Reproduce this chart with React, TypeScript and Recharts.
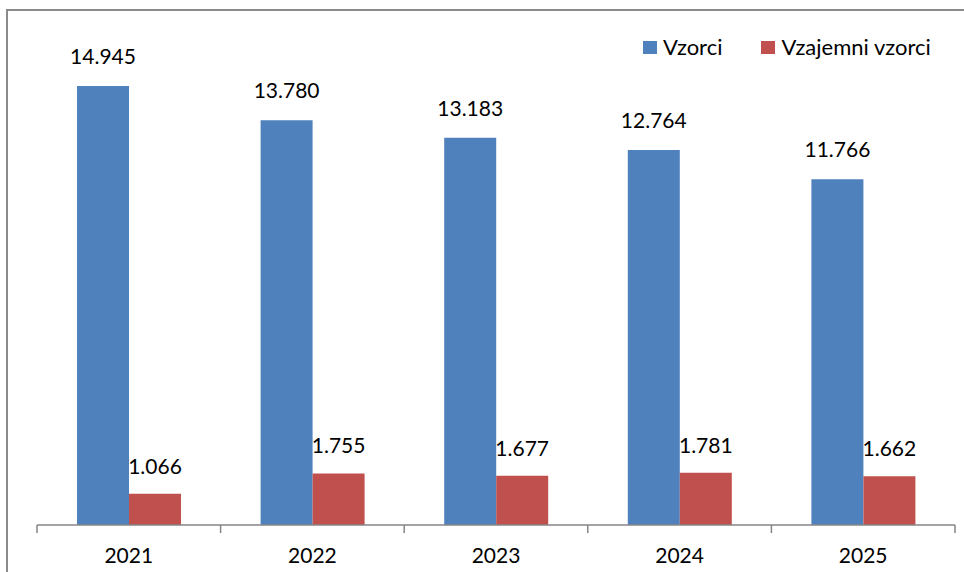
import React from 'react';
import { BarChart, Bar, XAxis, YAxis, LabelList, Legend } from 'recharts';

const years = ['2021', '2022', '2023', '2024', '2025'];
const vzorci = [14945, 13780, 13183, 12764, 11766];
const vzajemni = [1066, 1755, 1677, 1781, 1662];
const seriesNames = ['Vzorci', 'Vzajemni vzorci'];
const colors = ['#4F81BD', '#C0504D'];

const data = years.map((y, i) => ({ year: y, a: vzorci[i], b: vzajemni[i] }));

const FONT = 'Lato, "Open Sans", sans-serif';
const AXIS = '#868686';

const fmt = (v: any) => {
  const s = String(Math.round(Number(v)));
  return s.replace(/\B(?=(\d{3})+(?!\d))/g, '.');
};

const Tick = (props: any) => {
  const { x, y, payload, index, visibleTicksCount, width } = props;
  const half = payload && payload.offset ? payload.offset : (width || 918) / (visibleTicksCount || 5) / 2;
  const last = index === (visibleTicksCount || 5) - 1;
  return (
    <g>
      <line x1={x - half} x2={x - half} y1={y} y2={y + 8} stroke={AXIS} strokeWidth={1.5} />
      {last && <line x1={x + half} x2={x + half} y1={y} y2={y + 8} stroke={AXIS} strokeWidth={1.5} />}
      <text x={x} y={y + 38} textAnchor="middle" fontSize={21} fontFamily={FONT} fill="#000">
        {payload.value}
      </text>
    </g>
  );
};

const LegendContent = () => (
  <div style={{ display: 'flex', alignItems: 'center', fontFamily: FONT, fontSize: 22, lineHeight: '24px', color: '#000', whiteSpace: 'nowrap' }}>
    {seriesNames.map((n, i) => (
      <div key={n} style={{ display: 'flex', alignItems: 'center', marginRight: i === 0 ? 39 : 0 }}>
        <span style={{ display: 'inline-block', width: 14, height: 13, background: colors[i], marginRight: 6 }} />
        <span>{n}</span>
      </div>
    ))}
  </div>
);

export default function App() {
  return (
    <div style={{ position: 'absolute', left: 0, top: 0, width: 964, height: 572, overflow: 'hidden', background: '#fff' }}>
      <div style={{ position: 'absolute', left: 6, top: 9, width: 1000, height: 700, border: '2px solid #8a8a8a', boxSizing: 'border-box' }} />
      <div style={{ position: 'absolute', left: 0, top: 0 }}>
        <BarChart width={964} height={572} data={data} margin={{ top: 55, right: 9, bottom: 17, left: 37 }} barSize={52} barGap={0}>
          <YAxis hide domain={[0, 16000]} />
          <XAxis dataKey="year" height={30} tickLine={false} tickSize={0} tickMargin={0} axisLine={{ stroke: AXIS, strokeWidth: 1.5 }} tick={<Tick />} interval={0} />
          <Legend layout="horizontal" verticalAlign="middle" align="center" content={<LegendContent />} wrapperStyle={{ position: 'absolute', top: 35, left: 643, width: 'auto', height: 24 }} />
          <Bar dataKey="a" name={seriesNames[0]} fill={colors[0]} isAnimationActive={false}>
            <LabelList dataKey="a" position="top" offset={22} formatter={fmt} fontSize={21} fontFamily={FONT} fill="#000" />
          </Bar>
          <Bar dataKey="b" name={seriesNames[1]} fill={colors[1]} isAnimationActive={false}>
            <LabelList dataKey="b" position="top" offset={20} formatter={fmt} fontSize={21} fontFamily={FONT} fill="#000" />
          </Bar>
        </BarChart>
      </div>
    </div>
  );
}
